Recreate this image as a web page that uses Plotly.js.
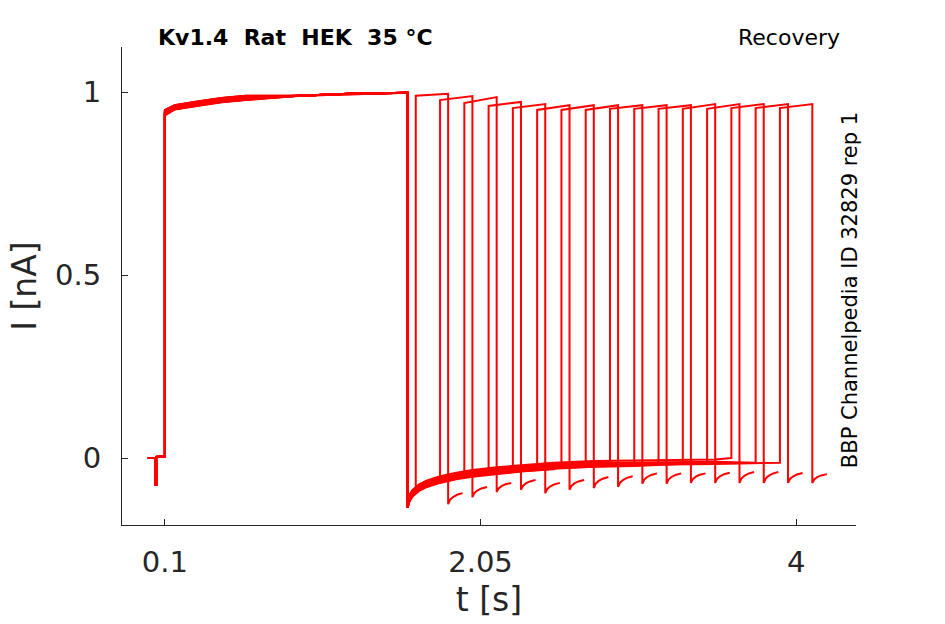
<!DOCTYPE html>
<html>
<head>
<meta charset="utf-8">
<script src="https://cdn.plot.ly/plotly-3.0.1.min.js"></script>
<style>
  html, body { margin: 0; padding: 0; background: #fff; }
  #myDiv { width: 945px; height: 624px; }
</style>
</head>
<body>
<div id="myDiv"></div>
<script>
// holding period before the conditioning pulse (shared by all sweeps)
let preT = [-0.005, 0.043, 0.043, 0.046, 0.046, 0.1];
let preI = [0, 0, -0.074, -0.074, 0.003, 0.004];

// conditioning pulse, 0.1 s .. 1.6 s
let pulse1T = [0.1, 0.16, 0.3, 0.45, 0.6, 0.93, 1.24, 1.6];
let pulse1I = [0.953, 0.958, 0.968, 0.978, 0.984, 0.990, 0.995, 0.998];
let pulse1Start = [0.945, 0.938, 0.950, 0.942, 0.948, 0.936, 0.944, 0.951,
                   0.940, 0.947, 0.937, 0.943, 0.949, 0.939, 0.946, 0.941];
let pulse1Shift = [0.003, -0.005, 0.006, -0.002, 0.004, -0.006, 0.001, 0.006,
                   -0.004, 0.002, -0.005, 0.002, 0.005, -0.003, 0.000, -0.002];

// recovery current after the conditioning pulse
let recT = [1.6, 1.61, 1.63, 1.67, 1.72, 1.8, 1.9, 2.0, 2.15, 2.3, 2.5, 2.75, 3.0, 3.5, 4.0];
let recI = [-0.135, -0.112, -0.097, -0.082, -0.071, -0.060, -0.050, -0.043, -0.035,
            -0.029, -0.023, -0.018, -0.016, -0.014, -0.014];
let recShift = [0, 0.006, -0.004, 0.008, -0.006, 0.003, -0.008, 0.005,
                -0.003, 0.007, -0.005, 0.002, -0.006, 0.010, 0.004, -0.002];

// test pulse of each sweep
let riseT = [1.65, 1.80, 1.95, 2.10, 2.25, 2.40, 2.55, 2.70,
             2.85, 3.00, 3.15, 3.30, 3.45, 3.60, 3.75, 3.90];
let fallT = [1.85, 2.00, 2.15, 2.30, 2.45, 2.60, 2.75, 2.90,
             3.05, 3.20, 3.35, 3.50, 3.65, 3.80, 3.95, 4.10];
let holdI = [-0.087, -0.060, -0.047, -0.038, -0.031, -0.025, -0.021, -0.018,
             -0.016, -0.015, -0.014, -0.014, -0.013, 0.000, -0.013, -0.013];
let p2StartI = [0.990, 0.978, 0.970, 0.962, 0.956, 0.951, 0.951, 0.951,
                0.954, 0.954, 0.954, 0.954, 0.954, 0.956, 0.956, 0.956];
let p2EndI = [0.995, 0.989, 0.986, 0.973, 0.967, 0.964, 0.964, 0.964,
              0.964, 0.964, 0.964, 0.967, 0.967, 0.967, 0.967, 0.967];

// tail after the test pulse
let tailStartI = [-0.126, -0.107, -0.093, -0.087, -0.096, -0.087, -0.082, -0.079,
                  -0.070, -0.070, -0.068, -0.068, -0.068, -0.068, -0.068, -0.068];
let tailEndI = [-0.096, -0.079, -0.068, -0.060, -0.068, -0.060, -0.052, -0.050,
                -0.042, -0.042, -0.042, -0.040, -0.038, -0.038, -0.041, -0.044];
let tailDt = [0, 0.012, 0.03, 0.055, 0.09];
let tailFrac = [0, 0.4, 0.65, 0.85, 1];

let data = [];
for (let s = 0; s < riseT.length; s++) {
  let x = preT.slice();
  let y = preI.slice();
  x.push(0.1);
  y.push(pulse1Start[s]);
  for (let k = 1; k < pulse1T.length; k++) {
    x.push(pulse1T[k]);
    // sweeps spread a little during the first part of the pulse
    y.push(pulse1I[k] + (k <= 4 ? pulse1Shift[s] : 0));
  }
  for (let k = 0; k < recT.length; k++) {
    if (recT[k] >= riseT[s] - 0.005) break;
    x.push(recT[k]);
    y.push(recI[k] + (k > 0 ? recShift[s] : 0));
  }
  x.push(riseT[s], riseT[s], fallT[s]);
  y.push(holdI[s], p2StartI[s], p2EndI[s]);
  for (let k = 0; k < tailDt.length; k++) {
    x.push(fallT[s] + tailDt[k]);
    y.push(tailStartI[s] + tailFrac[k] * (tailEndI[s] - tailStartI[s]));
  }
  data.push({
    x: x, y: y,
    type: 'scatter',
    mode: 'lines',
    line: {color: '#ff0000', width: 2},
    hoverinfo: 'skip',
    showlegend: false
  });
}

let axisColor = '#262626';
let layout = {
  width: 945,
  height: 624,
  margin: {l: 122, r: 89, t: 47, b: 99},
  paper_bgcolor: '#ffffff',
  plot_bgcolor: '#ffffff',
  font: {family: 'DejaVu Sans', color: axisColor},
  xaxis: {
    range: [-0.165, 4.37],
    tickvals: [0.1, 2.05, 4],
    ticktext: ['0.1', '2.05', '4'],
    ticks: 'inside',
    ticklen: 6,
    tickcolor: axisColor,
    showline: true,
    linecolor: axisColor,
    linewidth: 1,
    showgrid: false,
    zeroline: false,
    tickfont: {family: 'DejaVu Sans', size: 29, color: axisColor},
    ticklabelstandoff: 11,
    title: {
      text: 't [s]',
      font: {family: 'DejaVu Sans', size: 33, color: axisColor},
      standoff: 10
    }
  },
  yaxis: {
    range: [-0.183, 1.123],
    tickvals: [0, 0.5, 1],
    ticktext: ['0', '0.5', '1'],
    ticks: 'inside',
    ticklen: 6,
    tickcolor: axisColor,
    showline: true,
    linecolor: axisColor,
    linewidth: 1,
    showgrid: false,
    zeroline: false,
    tickfont: {family: 'DejaVu Sans', size: 29, color: axisColor},
    ticklabelstandoff: 14,
    title: {
      text: 'I [nA]',
      font: {family: 'DejaVu Sans', size: 33, color: axisColor},
      standoff: 8
    }
  },
  annotations: [
    {
      text: '<b>Kv1.4\u00a0\u00a0Rat\u00a0\u00a0HEK\u00a0\u00a035\u00a0°C</b>',
      xref: 'paper', yref: 'paper',
      x: 0.046, y: 1.019, xanchor: 'left', yanchor: 'middle',
      showarrow: false,
      font: {family: 'DejaVu Sans', size: 22, color: '#000000'}
    },
    {
      text: 'Recovery',
      xref: 'paper', yref: 'paper',
      x: 0.981, y: 1.019, xanchor: 'right', yanchor: 'middle',
      showarrow: false,
      font: {family: 'DejaVu Sans', size: 22, color: '#000000'}
    },
    {
      text: 'BBP Channelpedia ID 32829 rep 1',
      xref: 'paper', yref: 'paper',
      x: 0.992, y: 0.4916, xanchor: 'center', yanchor: 'middle',
      textangle: -90,
      showarrow: false,
      font: {family: 'DejaVu Sans', size: 21, color: '#000000'}
    }
  ]
};

Plotly.newPlot('myDiv', data, layout, {staticPlot: true, displayModeBar: false});
</script>
</body>
</html>
